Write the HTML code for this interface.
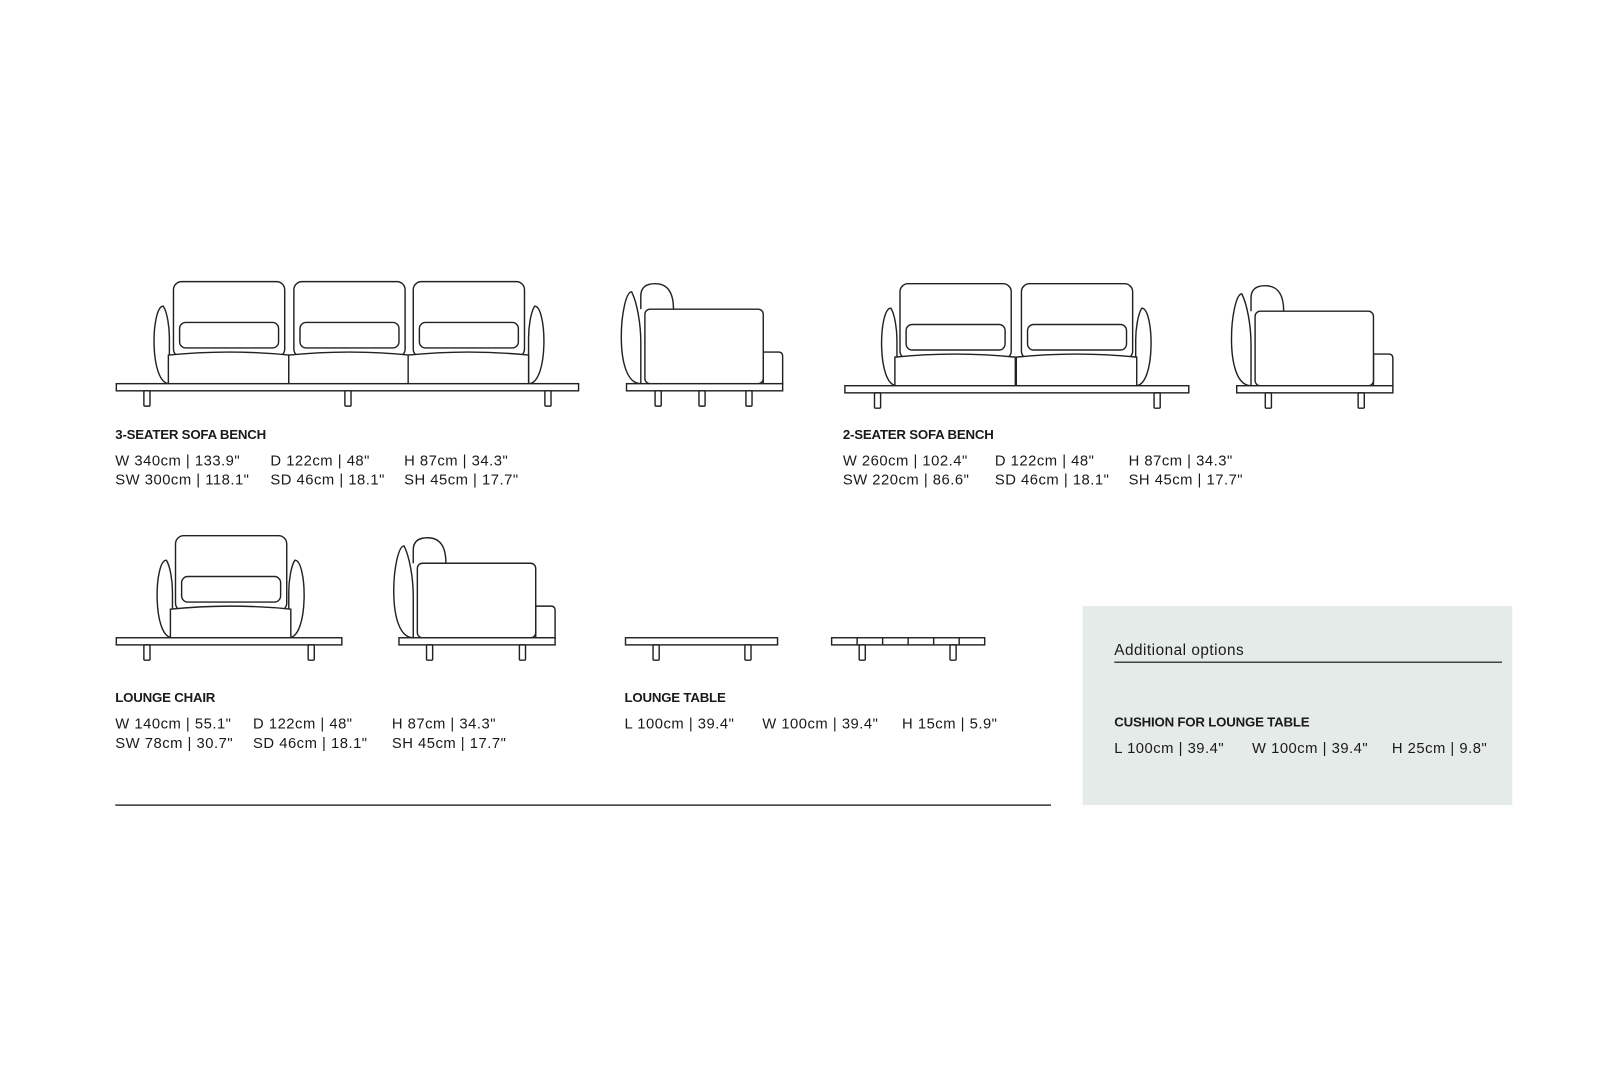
<!DOCTYPE html>
<html><head><meta charset="utf-8"><style>
html,body{margin:0;padding:0;background:#fff;}
svg{display:block;font-family:"Liberation Sans",sans-serif;}
.l{fill:none;stroke:#222;stroke-width:1.4;}
.w{fill:#fff;stroke:#222;stroke-width:1.4;}
.t{font-size:14.5px;fill:#1a1a1a;letter-spacing:0.5px;}
.b{font-size:13px;font-weight:bold;fill:#1a1a1a;letter-spacing:-0.2px;}
</style></head><body>
<svg width="1600" height="1066" viewBox="0 0 1600 1066">
<defs>
 <g id="unit">
  <rect class="w" x="5" y="-100" width="109" height="74" rx="8"/>
  <path class="w" d="M0,0 V-28 Q59,-34 118,-28 V0 Z"/>
  <rect class="w" x="11" y="-60" width="97" height="25" rx="6"/>
 </g>
 <path id="armL" class="w" d="M16,0 C-4,0 -2,-76 10,-76 C14,-70 16,-55 16,-45 Z"/>
 <path id="armR" class="w" d="M0,0 C20,0 18,-76 6,-76 C2,-70 0,-55 0,-45 Z"/>
 <g id="side">
  <path class="w" d="M14,0 C-14,0 -6,-90 5,-90 C10,-80 14,-60 14,-40 Z"/>
  <path class="w" d="M14,-73 V-86 Q14,-98 28,-98 Q46,-98 46,-73"/>
  <path class="w" d="M134,-31 H149 Q153,-31 153,-27 V0 H134 Z"/>
  <rect class="w" x="18" y="-73" width="116" height="73" rx="5"/>
  <rect class="w" x="0" y="0" width="153" height="7"/>
 </g>
</defs>
<g transform="scale(1.0204)">
<use href="#armL" x="150" y="376"/>
<use href="#armR" x="518" y="376"/>
<use href="#unit" x="165" y="376"/>
<use href="#unit" x="283" y="376"/>
<use href="#unit" x="400" y="376"/>
<rect class="w" x="114" y="376" width="453" height="7"/>
<rect class="w" x="141" y="383" width="6" height="15" rx="1"/>
<rect class="w" x="338" y="383" width="6" height="15" rx="1"/>
<rect class="w" x="534" y="383" width="6" height="15" rx="1"/>
<use href="#side" x="614" y="376"/>
<rect class="w" x="642" y="383" width="6" height="15" rx="1"/>
<rect class="w" x="685" y="383" width="6" height="15" rx="1"/>
<rect class="w" x="731" y="383" width="6" height="15" rx="1"/>

<use href="#armL" x="863" y="378"/>
<use href="#armR" x="1113" y="378"/>
<use href="#unit" x="877" y="378"/>
<use href="#unit" x="996" y="378"/>
<rect class="w" x="828" y="378" width="337" height="7"/>
<rect class="w" x="857" y="385" width="6" height="15" rx="1"/>
<rect class="w" x="1131" y="385" width="6" height="15" rx="1"/>
<use href="#side" x="1212" y="378"/>
<rect class="w" x="1240" y="385" width="6" height="15" rx="1"/>
<rect class="w" x="1331" y="385" width="6" height="15" rx="1"/>

<use href="#armL" x="153" y="625"/>
<use href="#armR" x="283" y="625"/>
<use href="#unit" x="167" y="625"/>
<rect class="w" x="114" y="625" width="221" height="7"/>
<rect class="w" x="141" y="632" width="6" height="15" rx="1"/>
<rect class="w" x="302" y="632" width="6" height="15" rx="1"/>
<use href="#side" x="391" y="625"/>
<rect class="w" x="418" y="632" width="6" height="15" rx="1"/>
<rect class="w" x="509" y="632" width="6" height="15" rx="1"/>

<rect class="w" x="613" y="625" width="149" height="7"/>
<rect class="w" x="640" y="632" width="6" height="15" rx="1"/>
<rect class="w" x="730" y="632" width="6" height="15" rx="1"/>
<rect class="w" x="815" y="625" width="150" height="7"/>
<path class="l" d="M840,625V632M865,625V632M890,625V632M915,625V632M940,625V632"/>
<rect class="w" x="842" y="632" width="6" height="15" rx="1"/>
<rect class="w" x="931" y="632" width="6" height="15" rx="1"/>

<text class="b" x="113" y="430">3-SEATER SOFA BENCH</text>
<text class="t" x="113" y="456">W 340cm | 133.9"</text>
<text class="t" x="265" y="456">D 122cm | 48"</text>
<text class="t" x="396" y="456">H 87cm | 34.3"</text>
<text class="t" x="113" y="475">SW 300cm | 118.1"</text>
<text class="t" x="265" y="475">SD 46cm | 18.1"</text>
<text class="t" x="396" y="475">SH 45cm | 17.7"</text>

<text class="b" x="826" y="430">2-SEATER SOFA BENCH</text>
<text class="t" x="826" y="456">W 260cm | 102.4"</text>
<text class="t" x="975" y="456">D 122cm | 48"</text>
<text class="t" x="1106" y="456">H 87cm | 34.3"</text>
<text class="t" x="826" y="475">SW 220cm | 86.6"</text>
<text class="t" x="975" y="475">SD 46cm | 18.1"</text>
<text class="t" x="1106" y="475">SH 45cm | 17.7"</text>

<text class="b" x="113" y="688">LOUNGE CHAIR</text>
<text class="t" x="113" y="714">W 140cm | 55.1"</text>
<text class="t" x="248" y="714">D 122cm | 48"</text>
<text class="t" x="384" y="714">H 87cm | 34.3"</text>
<text class="t" x="113" y="733">SW 78cm | 30.7"</text>
<text class="t" x="248" y="733">SD 46cm | 18.1"</text>
<text class="t" x="384" y="733">SH 45cm | 17.7"</text>

<text class="b" x="612" y="688">LOUNGE TABLE</text>
<text class="t" x="612" y="714">L 100cm | 39.4"</text>
<text class="t" x="747" y="714">W 100cm | 39.4"</text>
<text class="t" x="884" y="714">H 15cm | 5.9"</text>

<line x1="113" y1="789" x2="1030" y2="789" stroke="#333" stroke-width="1.5"/>

<rect x="1061" y="594" width="421" height="195" fill="#e5ebe9"/>
<text class="t" x="1092" y="642" style="font-size:15px">Additional options</text>
<line x1="1092" y1="649" x2="1472" y2="649" stroke="#444" stroke-width="1.5"/>
<text class="b" x="1092" y="712">CUSHION FOR LOUNGE TABLE</text>
<text class="t" x="1092" y="738">L 100cm | 39.4"</text>
<text class="t" x="1227" y="738">W 100cm | 39.4"</text>
<text class="t" x="1364" y="738">H 25cm | 9.8"</text>
</g>
</svg>
</body></html>
